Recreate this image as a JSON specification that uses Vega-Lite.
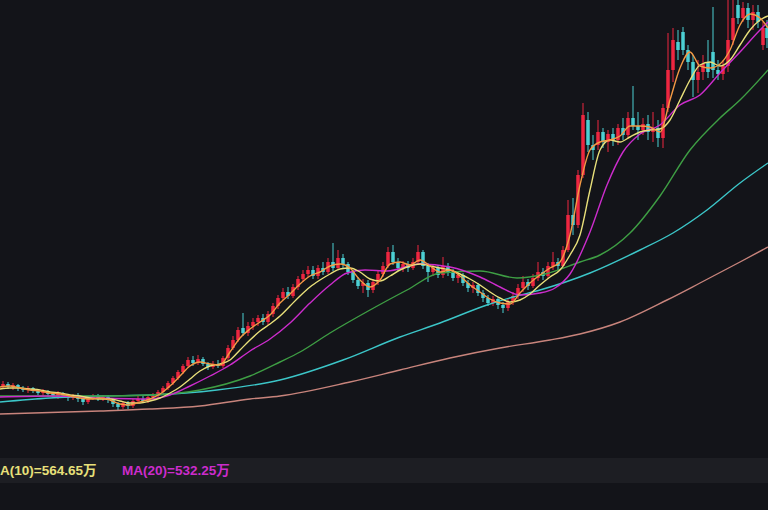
{
  "$schema": "https://vega.github.io/schema/vega-lite/v6.json",
  "width": 768,
  "height": 510,
  "padding": 0,
  "autosize": {"type": "fit", "contains": "padding"},
  "background": "#131419",
  "config": {"view": {"stroke": null}},
  "datasets": {
    "k": [
      {"x":3,"o":114,"h":119,"l":111,"c":116},{"x":8,"o":116,"h":118,"l":111,"c":113},{"x":13,"o":113,"h":117,"l":110,"c":115},{"x":18,"o":115,"h":116,"l":109,"c":112},{"x":23,"o":112,"h":114,"l":108,"c":110},{"x":28,"o":110,"h":114,"l":107,"c":112},{"x":33,"o":112,"h":113,"l":107,"c":109},{"x":38,"o":109,"h":111,"l":105,"c":107},{"x":43,"o":107,"h":111,"l":104,"c":109},{"x":48,"o":109,"h":110,"l":103,"c":106},{"x":53,"o":106,"h":108,"l":102,"c":104},{"x":58,"o":104,"h":109,"l":101,"c":107},{"x":63,"o":107,"h":108,"l":102,"c":104},{"x":68,"o":104,"h":106,"l":99,"c":102},{"x":73,"o":102,"h":106,"l":100,"c":105},{"x":78,"o":105,"h":107,"l":98,"c":101},{"x":83,"o":101,"h":104,"l":95,"c":98},{"x":88,"o":98,"h":104,"l":96,"c":102},{"x":93,"o":102,"h":106,"l":100,"c":104},{"x":98,"o":104,"h":106,"l":99,"c":101},{"x":103,"o":101,"h":105,"l":99,"c":103},{"x":108,"o":103,"h":105,"l":97,"c":100},{"x":113,"o":100,"h":102,"l":93,"c":96},{"x":118,"o":96,"h":98,"l":90,"c":93},{"x":123,"o":93,"h":99,"l":91,"c":97},{"x":128,"o":97,"h":99,"l":91,"c":94},{"x":133,"o":94,"h":101,"l":92,"c":99},{"x":138,"o":99,"h":104,"l":97,"c":101},{"x":143,"o":101,"h":104,"l":97,"c":99},{"x":148,"o":99,"h":105,"l":97,"c":103},{"x":153,"o":103,"h":107,"l":101,"c":104},{"x":158,"o":104,"h":110,"l":102,"c":108},
      {"x":163,"o":108,"h":114,"l":106,"c":112},{"x":168,"o":112,"h":119,"l":110,"c":117},{"x":173,"o":117,"h":124,"l":115,"c":122},{"x":178,"o":122,"h":130,"l":120,"c":128},{"x":183,"o":128,"h":136,"l":126,"c":134},{"x":188,"o":134,"h":143,"l":132,"c":140},{"x":193,"o":140,"h":144,"l":134,"c":137},{"x":198,"o":137,"h":145,"l":135,"c":141},{"x":203,"o":141,"h":143,"l":134,"c":136},{"x":208,"o":136,"h":138,"l":130,"c":133},{"x":213,"o":133,"h":139,"l":131,"c":136},{"x":218,"o":136,"h":140,"l":132,"c":134},{"x":223,"o":134,"h":144,"l":132,"c":142},{"x":228,"o":142,"h":155,"l":140,"c":152},{"x":233,"o":152,"h":164,"l":150,"c":160},{"x":238,"o":160,"h":173,"l":158,"c":170},{"x":243,"o":172,"h":187,"l":164,"c":167},{"x":248,"o":167,"h":178,"l":164,"c":174},{"x":253,"o":174,"h":182,"l":170,"c":178},{"x":258,"o":178,"h":185,"l":174,"c":182},{"x":263,"o":182,"h":186,"l":175,"c":178},{"x":268,"o":178,"h":189,"l":175,"c":186},{"x":273,"o":186,"h":197,"l":183,"c":194},{"x":278,"o":194,"h":205,"l":191,"c":202},{"x":283,"o":202,"h":212,"l":200,"c":208},{"x":288,"o":208,"h":213,"l":201,"c":204},{"x":293,"o":204,"h":216,"l":202,"c":213},{"x":298,"o":213,"h":224,"l":210,"c":221},{"x":303,"o":221,"h":230,"l":218,"c":226},{"x":308,"o":226,"h":234,"l":223,"c":230},{"x":313,"o":230,"h":234,"l":221,"c":224},{"x":318,"o":224,"h":235,"l":221,"c":232},{"x":323,"o":232,"h":238,"l":225,"c":228},{"x":328,"o":228,"h":242,"l":226,"c":238},{"x":333,"o":238,"h":257,"l":229,"c":232},{"x":338,"o":232,"h":250,"l":230,"c":242},{"x":343,"o":242,"h":246,"l":232,"c":236},{"x":348,"o":236,"h":238,"l":225,"c":228},{"x":353,"o":228,"h":230,"l":217,"c":220},{"x":358,"o":220,"h":223,"l":211,"c":214},{"x":363,"o":214,"h":221,"l":207,"c":217},{"x":368,"o":217,"h":220,"l":203,"c":210},{"x":373,"o":210,"h":221,"l":207,"c":218},{"x":378,"o":218,"h":229,"l":215,"c":226},{"x":383,"o":226,"h":238,"l":223,"c":234},{"x":388,"o":234,"h":253,"l":232,"c":248},{"x":393,"o":248,"h":255,"l":235,"c":238},{"x":398,"o":238,"h":242,"l":229,"c":232},{"x":403,"o":232,"h":239,"l":228,"c":236},{"x":408,"o":236,"h":239,"l":228,"c":232},{"x":413,"o":232,"h":242,"l":230,"c":238},{"x":418,"o":238,"h":255,"l":236,"c":248},{"x":423,"o":248,"h":250,"l":231,"c":234},{"x":428,"o":234,"h":237,"l":218,"c":228},{"x":433,"o":228,"h":235,"l":224,"c":232},{"x":438,"o":232,"h":235,"l":222,"c":225},{"x":443,"o":225,"h":243,"l":222,"c":234},{"x":448,"o":234,"h":237,"l":224,"c":228},{"x":453,"o":228,"h":231,"l":219,"c":222},{"x":458,"o":222,"h":228,"l":217,"c":225},{"x":463,"o":225,"h":227,"l":214,"c":217},{"x":468,"o":217,"h":220,"l":208,"c":212},{"x":473,"o":212,"h":218,"l":207,"c":215},{"x":478,"o":215,"h":217,"l":204,"c":207},{"x":483,"o":207,"h":210,"l":198,"c":202},{"x":488,"o":202,"h":205,"l":194,"c":197},{"x":493,"o":197,"h":204,"l":194,"c":201},{"x":498,"o":201,"h":203,"l":191,"c":195},{"x":503,"o":195,"h":198,"l":187,"c":192},{"x":508,"o":192,"h":201,"l":189,"c":198},{"x":513,"o":198,"h":208,"l":195,"c":204},{"x":518,"o":204,"h":216,"l":201,"c":212},{"x":523,"o":212,"h":224,"l":208,"c":218},{"x":528,"o":218,"h":221,"l":210,"c":214},{"x":533,"o":214,"h":226,"l":212,"c":222},{"x":538,"o":222,"h":238,"l":219,"c":228},{"x":543,"o":228,"h":232,"l":220,"c":224},{"x":548,"o":224,"h":238,"l":221,"c":234},{"x":553,"o":234,"h":248,"l":230,"c":238},{"x":558,"o":238,"h":242,"l":230,"c":234},{"x":563,"o":234,"h":254,"l":232,"c":250},{"x":568,"o":250,"h":300,"l":248,"c":285},{"x":573,"o":285,"h":302,"l":265,"c":275},{"x":578,"o":275,"h":330,"l":272,"c":325},{"x":583,"o":325,"h":397,"l":322,"c":385},{"x":588,"o":380,"h":388,"l":348,"c":355},{"x":593,"o":355,"h":365,"l":340,"c":350},{"x":598,"o":355,"h":380,"l":350,"c":368},{"x":603,"o":368,"h":372,"l":352,"c":358},{"x":608,"o":358,"h":370,"l":348,"c":366},{"x":613,"o":366,"h":372,"l":354,"c":360},{"x":618,"o":360,"h":376,"l":355,"c":372},{"x":623,"o":372,"h":382,"l":360,"c":365},{"x":628,"o":365,"h":388,"l":362,"c":382},{"x":633,"o":382,"h":414,"l":370,"c":374},{"x":638,"o":374,"h":388,"l":360,"c":370},{"x":643,"o":370,"h":382,"l":365,"c":376},{"x":648,"o":376,"h":385,"l":360,"c":368},{"x":653,"o":368,"h":388,"l":358,"c":372},{"x":658,"o":372,"h":380,"l":353,"c":362},{"x":663,"o":362,"h":396,"l":352,"c":392},{"x":668,"o":392,"h":467,"l":388,"c":430},{"x":673,"o":430,"h":472,"l":418,"c":460},{"x":678,"o":458,"h":470,"l":440,"c":450},{"x":683,"o":468,"h":473,"l":445,"c":450},{"x":688,"o":450,"h":455,"l":430,"c":438},{"x":693,"o":438,"h":445,"l":403,"c":420},{"x":698,"o":420,"h":440,"l":407,"c":428},{"x":703,"o":428,"h":445,"l":420,"c":436},{"x":708,"o":438,"h":460,"l":422,"c":428},{"x":713,"o":448,"h":493,"l":422,"c":430},{"x":718,"o":430,"h":440,"l":420,"c":426},{"x":723,"o":426,"h":440,"l":420,"c":434},{"x":728,"o":434,"h":500,"l":428,"c":460},{"x":733,"o":460,"h":500,"l":455,"c":482},{"x":738,"o":495,"h":500,"l":476,"c":482},{"x":743,"o":482,"h":498,"l":478,"c":492},{"x":748,"o":492,"h":497,"l":472,"c":480},{"x":753,"o":480,"h":495,"l":470,"c":488},{"x":758,"o":488,"h":495,"l":472,"c":478},{"x":763,"o":455,"h":478,"l":450,"c":472},{"x":767,"o":472,"h":480,"l":452,"c":462}
    ],
    "ma": [
      {"s":"MA250","x":0,"v":86},{"s":"MA250","x":100,"v":89},{"s":"MA250","x":150,"v":91},{"s":"MA250","x":200,"v":94},{"s":"MA250","x":250,"v":101},{"s":"MA250","x":280,"v":104},{"s":"MA250","x":350,"v":118},{"s":"MA250","x":400,"v":130},{"s":"MA250","x":450,"v":142},{"s":"MA250","x":500,"v":152},{"s":"MA250","x":550,"v":160},{"s":"MA250","x":580,"v":166},{"s":"MA250","x":620,"v":178},{"s":"MA250","x":667,"v":200},{"s":"MA250","x":700,"v":217},{"s":"MA250","x":740,"v":238},{"s":"MA250","x":768,"v":253},
      {"s":"MA120","x":0,"v":98},{"s":"MA120","x":50,"v":102},{"s":"MA120","x":100,"v":104},{"s":"MA120","x":150,"v":105},{"s":"MA120","x":217,"v":110},{"s":"MA120","x":280,"v":120},{"s":"MA120","x":343,"v":140},{"s":"MA120","x":400,"v":163},{"s":"MA120","x":440,"v":177},{"s":"MA120","x":487,"v":195},{"s":"MA120","x":513,"v":203},{"s":"MA120","x":540,"v":210},{"s":"MA120","x":590,"v":227},{"s":"MA120","x":640,"v":250},{"s":"MA120","x":673,"v":267},{"s":"MA120","x":707,"v":290},{"s":"MA120","x":740,"v":317},{"s":"MA120","x":768,"v":337},
      {"s":"MA60","x":0,"v":104},{"s":"MA60","x":50,"v":104},{"s":"MA60","x":100,"v":104},{"s":"MA60","x":150,"v":105},{"s":"MA60","x":200,"v":110},{"s":"MA60","x":250,"v":124},{"s":"MA60","x":280,"v":138},{"s":"MA60","x":300,"v":148},{"s":"MA60","x":330,"v":167},{"s":"MA60","x":370,"v":190},{"s":"MA60","x":407,"v":210},{"s":"MA60","x":440,"v":227},{"s":"MA60","x":480,"v":229},{"s":"MA60","x":517,"v":222},{"s":"MA60","x":545,"v":226},{"s":"MA60","x":580,"v":238},{"s":"MA60","x":600,"v":245},{"s":"MA60","x":630,"v":267},{"s":"MA60","x":660,"v":304},{"s":"MA60","x":690,"v":350},{"s":"MA60","x":720,"v":382},{"s":"MA60","x":740,"v":400},{"s":"MA60","x":768,"v":430},
      {"s":"MA20","x":0,"v":103},{"s":"MA20","x":50,"v":104},{"s":"MA20","x":100,"v":102},{"s":"MA20","x":150,"v":101},{"s":"MA20","x":170,"v":105},{"s":"MA20","x":190,"v":114},{"s":"MA20","x":210,"v":124},{"s":"MA20","x":230,"v":135},{"s":"MA20","x":250,"v":149},{"s":"MA20","x":270,"v":161},{"s":"MA20","x":290,"v":177},{"s":"MA20","x":310,"v":197},{"s":"MA20","x":330,"v":215},{"s":"MA20","x":347,"v":227},{"s":"MA20","x":365,"v":230},{"s":"MA20","x":387,"v":229},{"s":"MA20","x":420,"v":236},{"s":"MA20","x":450,"v":233},{"s":"MA20","x":480,"v":223},{"s":"MA20","x":500,"v":213},{"s":"MA20","x":520,"v":205},{"s":"MA20","x":540,"v":207},{"s":"MA20","x":555,"v":212},{"s":"MA20","x":570,"v":226},{"s":"MA20","x":590,"v":268},{"s":"MA20","x":607,"v":315},{"s":"MA20","x":623,"v":348},{"s":"MA20","x":640,"v":366},{"s":"MA20","x":660,"v":375},{"s":"MA20","x":680,"v":395},{"s":"MA20","x":700,"v":405},{"s":"MA20","x":720,"v":427},{"s":"MA20","x":740,"v":448},{"s":"MA20","x":760,"v":470},{"s":"MA20","x":768,"v":478},
      {"s":"MA10","x":0,"v":111},{"s":"MA10","x":10,"v":112},{"s":"MA10","x":20,"v":112},{"s":"MA10","x":30,"v":111},{"s":"MA10","x":40,"v":110},{"s":"MA10","x":50,"v":108},{"s":"MA10","x":60,"v":107},{"s":"MA10","x":70,"v":105},{"s":"MA10","x":80,"v":104},{"s":"MA10","x":90,"v":102},{"s":"MA10","x":100,"v":101},{"s":"MA10","x":110,"v":101},{"s":"MA10","x":120,"v":99},{"s":"MA10","x":130,"v":97},{"s":"MA10","x":140,"v":97},{"s":"MA10","x":150,"v":99},{"s":"MA10","x":160,"v":102},{"s":"MA10","x":170,"v":107},{"s":"MA10","x":180,"v":113},{"s":"MA10","x":190,"v":121},{"s":"MA10","x":200,"v":129},{"s":"MA10","x":210,"v":134},{"s":"MA10","x":220,"v":136},{"s":"MA10","x":230,"v":140},{"s":"MA10","x":240,"v":150},{"s":"MA10","x":250,"v":160},{"s":"MA10","x":260,"v":169},{"s":"MA10","x":270,"v":176},{"s":"MA10","x":280,"v":184},{"s":"MA10","x":290,"v":194},{"s":"MA10","x":300,"v":204},{"s":"MA10","x":310,"v":213},{"s":"MA10","x":320,"v":220},{"s":"MA10","x":330,"v":226},{"s":"MA10","x":340,"v":231},{"s":"MA10","x":350,"v":232},{"s":"MA10","x":360,"v":228},{"s":"MA10","x":370,"v":221},{"s":"MA10","x":380,"v":219},{"s":"MA10","x":390,"v":224},{"s":"MA10","x":400,"v":230},{"s":"MA10","x":410,"v":234},{"s":"MA10","x":420,"v":236},{"s":"MA10","x":430,"v":234},{"s":"MA10","x":440,"v":232},{"s":"MA10","x":450,"v":230},{"s":"MA10","x":460,"v":226},{"s":"MA10","x":470,"v":221},{"s":"MA10","x":480,"v":215},{"s":"MA10","x":490,"v":208},{"s":"MA10","x":500,"v":202},{"s":"MA10","x":510,"v":198},{"s":"MA10","x":520,"v":200},{"s":"MA10","x":530,"v":206},{"s":"MA10","x":540,"v":215},{"s":"MA10","x":550,"v":223},{"s":"MA10","x":560,"v":230},{"s":"MA10","x":570,"v":245},{"s":"MA10","x":580,"v":265},{"s":"MA10","x":590,"v":310},{"s":"MA10","x":600,"v":350},{"s":"MA10","x":610,"v":360},{"s":"MA10","x":620,"v":358},{"s":"MA10","x":630,"v":363},{"s":"MA10","x":640,"v":368},{"s":"MA10","x":650,"v":370},{"s":"MA10","x":660,"v":371},{"s":"MA10","x":670,"v":380},{"s":"MA10","x":680,"v":400},{"s":"MA10","x":690,"v":420},{"s":"MA10","x":700,"v":435},{"s":"MA10","x":710,"v":438},{"s":"MA10","x":720,"v":434},{"s":"MA10","x":730,"v":440},{"s":"MA10","x":740,"v":455},{"s":"MA10","x":750,"v":470},{"s":"MA10","x":760,"v":480},{"s":"MA10","x":768,"v":484},
      {"s":"MA5","x":0,"v":113},{"s":"MA5","x":10,"v":114},{"s":"MA5","x":20,"v":112},{"s":"MA5","x":30,"v":110},{"s":"MA5","x":40,"v":109},{"s":"MA5","x":50,"v":107},{"s":"MA5","x":60,"v":106},{"s":"MA5","x":70,"v":104},{"s":"MA5","x":80,"v":102},{"s":"MA5","x":90,"v":101},{"s":"MA5","x":100,"v":102},{"s":"MA5","x":110,"v":100},{"s":"MA5","x":120,"v":96},{"s":"MA5","x":130,"v":95},{"s":"MA5","x":140,"v":98},{"s":"MA5","x":150,"v":101},{"s":"MA5","x":160,"v":106},{"s":"MA5","x":170,"v":114},{"s":"MA5","x":180,"v":124},{"s":"MA5","x":190,"v":134},{"s":"MA5","x":200,"v":138},{"s":"MA5","x":210,"v":136},{"s":"MA5","x":220,"v":135},{"s":"MA5","x":230,"v":148},{"s":"MA5","x":240,"v":162},{"s":"MA5","x":250,"v":171},{"s":"MA5","x":260,"v":178},{"s":"MA5","x":270,"v":185},{"s":"MA5","x":280,"v":197},{"s":"MA5","x":290,"v":206},{"s":"MA5","x":300,"v":216},{"s":"MA5","x":310,"v":224},{"s":"MA5","x":320,"v":228},{"s":"MA5","x":330,"v":234},{"s":"MA5","x":340,"v":236},{"s":"MA5","x":350,"v":232},{"s":"MA5","x":360,"v":220},{"s":"MA5","x":370,"v":213},{"s":"MA5","x":380,"v":220},{"s":"MA5","x":390,"v":236},{"s":"MA5","x":400,"v":238},{"s":"MA5","x":410,"v":235},{"s":"MA5","x":420,"v":240},{"s":"MA5","x":430,"v":234},{"s":"MA5","x":440,"v":228},{"s":"MA5","x":450,"v":230},{"s":"MA5","x":460,"v":224},{"s":"MA5","x":470,"v":215},{"s":"MA5","x":480,"v":208},{"s":"MA5","x":490,"v":201},{"s":"MA5","x":500,"v":197},{"s":"MA5","x":510,"v":196},{"s":"MA5","x":520,"v":207},{"s":"MA5","x":530,"v":217},{"s":"MA5","x":540,"v":225},{"s":"MA5","x":550,"v":232},{"s":"MA5","x":560,"v":238},{"s":"MA5","x":570,"v":265},{"s":"MA5","x":580,"v":315},{"s":"MA5","x":590,"v":350},{"s":"MA5","x":600,"v":358},{"s":"MA5","x":610,"v":360},{"s":"MA5","x":620,"v":364},{"s":"MA5","x":630,"v":374},{"s":"MA5","x":640,"v":374},{"s":"MA5","x":650,"v":373},{"s":"MA5","x":660,"v":368},{"s":"MA5","x":670,"v":400},{"s":"MA5","x":680,"v":432},{"s":"MA5","x":690,"v":448},{"s":"MA5","x":700,"v":434},{"s":"MA5","x":710,"v":432},{"s":"MA5","x":720,"v":436},{"s":"MA5","x":730,"v":450},{"s":"MA5","x":740,"v":475},{"s":"MA5","x":750,"v":486},{"s":"MA5","x":760,"v":482},{"s":"MA5","x":768,"v":472}
    ],
    "band": [{"x":0,"x2":768,"y":17,"y2":42}],
    "labels": [{"x":0,"y":29,"t":"A(10)=564.65万","s":"MA10"},{"x":122,"y":29,"t":"MA(20)=532.25万","s":"MA20"}]
  },
  "layer": [
    {
      "data": {"name": "band"},
      "mark": {"type": "rect", "color": "#1d1e23", "clip": true},
      "encoding": {
        "x": {"field": "x", "type": "quantitative", "scale": {"domain": [0, 768], "nice": false, "zero": false, "padding": 0}, "axis": null},
        "x2": {"field": "x2"},
        "y": {"field": "y", "type": "quantitative", "scale": {"domain": [-10, 500], "nice": false, "zero": false}, "axis": null},
        "y2": {"field": "y2"}
      }
    },
    {
      "data": {"name": "k"},
      "mark": {"type": "rule", "strokeWidth": 1, "clip": true},
      "encoding": {
        "x": {"field": "x", "type": "quantitative", "scale": {"domain": [0, 768], "nice": false, "zero": false, "padding": 0}, "axis": null},
        "y": {"field": "l", "type": "quantitative", "scale": {"domain": [-10, 500], "nice": false, "zero": false}, "axis": null},
        "y2": {"field": "h"},
        "color": {"condition": {"test": "datum.c >= datum.o", "value": "#ee2640"}, "value": "#4cd0d4"}
      }
    },
    {
      "data": {"name": "k"},
      "mark": {"type": "bar", "size": 3.5, "clip": true},
      "encoding": {
        "x": {"field": "x", "type": "quantitative", "scale": {"domain": [0, 768], "nice": false, "zero": false, "padding": 0}, "axis": null},
        "y": {"field": "o", "type": "quantitative", "scale": {"domain": [-10, 500], "nice": false, "zero": false}, "axis": null},
        "y2": {"field": "c"},
        "color": {"condition": {"test": "datum.c >= datum.o", "value": "#ee2640"}, "value": "#4cd0d4"}
      }
    },
    {
      "data": {"name": "ma"},
      "mark": {"type": "line", "interpolate": "monotone", "clip": true},
      "encoding": {
        "x": {"field": "x", "type": "quantitative", "scale": {"domain": [0, 768], "nice": false, "zero": false, "padding": 0}, "axis": null},
        "y": {"field": "v", "type": "quantitative", "scale": {"domain": [-10, 500], "nice": false, "zero": false}, "axis": null},
        "color": {"field": "s", "type": "nominal", "legend": null, "scale": {"domain": ["MA5", "MA10", "MA20", "MA60", "MA120", "MA250"], "range": ["#f39a45", "#e8e07a", "#cc2ccc", "#3e9e44", "#3cc6c8", "#c8847c"]}},
        "strokeWidth": {"field": "s", "type": "nominal", "legend": null, "scale": {"domain": ["MA5", "MA10", "MA20", "MA60", "MA120", "MA250"], "range": [1.4, 1.4, 2, 1.3, 2, 2]}},
        "order": {"field": "x", "type": "quantitative"}
      }
    },
    {
      "data": {"name": "labels"},
      "mark": {"type": "text", "align": "left", "baseline": "middle", "font": "Liberation Sans, Noto Sans CJK SC", "fontSize": 13.5, "fontWeight": "bold", "clip": true},
      "encoding": {
        "x": {"field": "x", "type": "quantitative", "scale": {"domain": [0, 768], "nice": false, "zero": false, "padding": 0}, "axis": null},
        "y": {"field": "y", "type": "quantitative", "scale": {"domain": [-10, 500], "nice": false, "zero": false}, "axis": null},
        "text": {"field": "t"},
        "color": {"field": "s", "type": "nominal", "legend": null}
      }
    }
  ]
}
